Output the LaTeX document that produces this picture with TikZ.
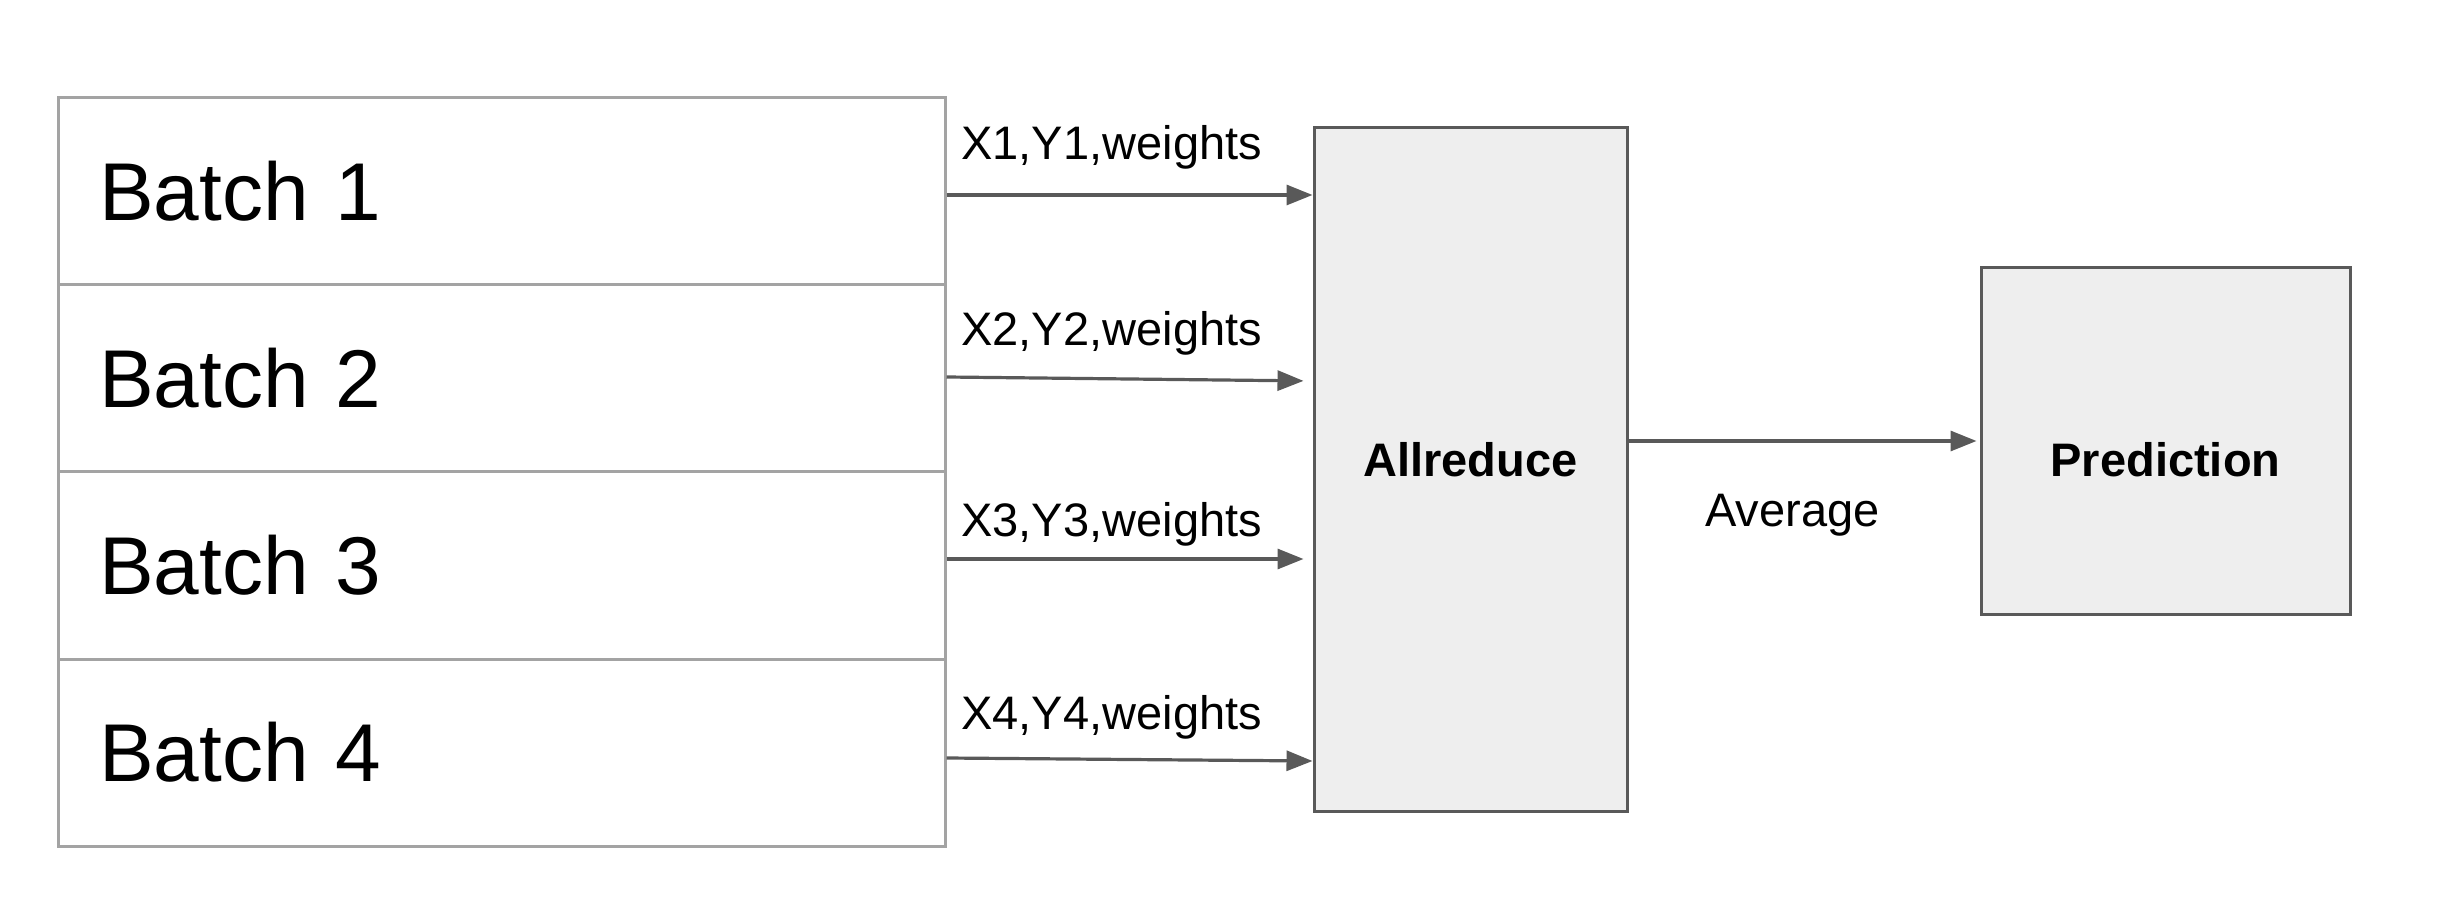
\documentclass[tikz,border=0pt]{standalone}
\usepackage{fontspec}
\setmainfont{Liberation Sans}
\usetikzlibrary{arrows.meta}
\definecolor{lightborder}{HTML}{A3A3A3}
\definecolor{darkline}{HTML}{595959}
\definecolor{boxfill}{HTML}{EEEEEE}
\tikzset{
  batchbox/.style={draw=lightborder, line width=1.5pt, rectangle, minimum width=443.5pt,
    minimum height=93.5pt, inner xsep=20.5pt, inner ysep=0pt, text width=402.5pt, align=left,
    font=\fontsize{41}{48}\selectfont},
  procbox/.style={draw=darkline, fill=boxfill, line width=1.5pt, rectangle, inner sep=0pt,
    font=\fontsize{23.5}{28}\selectfont\bfseries},
  smalltext/.style={font=\fontsize{23.5}{28}\selectfont, inner sep=0pt},
  arr/.style={draw=darkline, line width=1.6pt, -{Triangle[length=13pt,width=10pt]}, darkline}
}
\begin{document}
\begin{tikzpicture}[x=0.5pt,y=-0.5pt]
\useasboundingbox (0,0) rectangle (2461,908);
% batch boxes
\node[batchbox] (b1) at (501.5,191.5) {Batch 1};
\node[batchbox] (b2) at (501.5,378.5) {Batch 2};
\node[batchbox] (b3) at (501.5,565.5) {Batch 3};
\node[batchbox] (b4) at (501.5,752.5) {Batch 4};
% allreduce
\node[procbox, minimum width=156.5pt, minimum height=341.5pt] (ar) at (1470.5,469.5) {\smash{\raisebox{-3.75pt}{Allreduce}}};
% prediction
\node[procbox, minimum width=184.5pt, minimum height=173pt] (pred) at (2165.5,441) {\smash{\raisebox{-18pt}{Prediction}}};
% arrows
\draw[arr] (b1.east |- 0,195) -- (ar.west |- 0,195);
\draw[arr, shorten >=4.5pt] (b2.east |- 0,377) -- (ar.west |- 0,381);
\draw[arr, shorten >=4.5pt] (b3.east |- 0,559) -- (ar.west |- 0,559);
\draw[arr] (b4.east |- 0,758) -- (ar.west |- 0,761);
\draw[arr, shorten >=1.5pt] (ar.east |- 0,441) -- (pred.west |- 0,441);
% labels
\node[smalltext, anchor=base west] (l1) at (961,160) {X1,Y1,weights};
\node[smalltext, anchor=base west] (l2) at (961,346) {X2,Y2,weights};
\node[smalltext, anchor=base west] (l3) at (961,537) {X3,Y3,weights};
\node[smalltext, anchor=base west] (l4) at (961,729) {X4,Y4,weights};
\node[smalltext, anchor=base west] (avg) at (1705,526) {Average};
\end{tikzpicture}
\end{document}
